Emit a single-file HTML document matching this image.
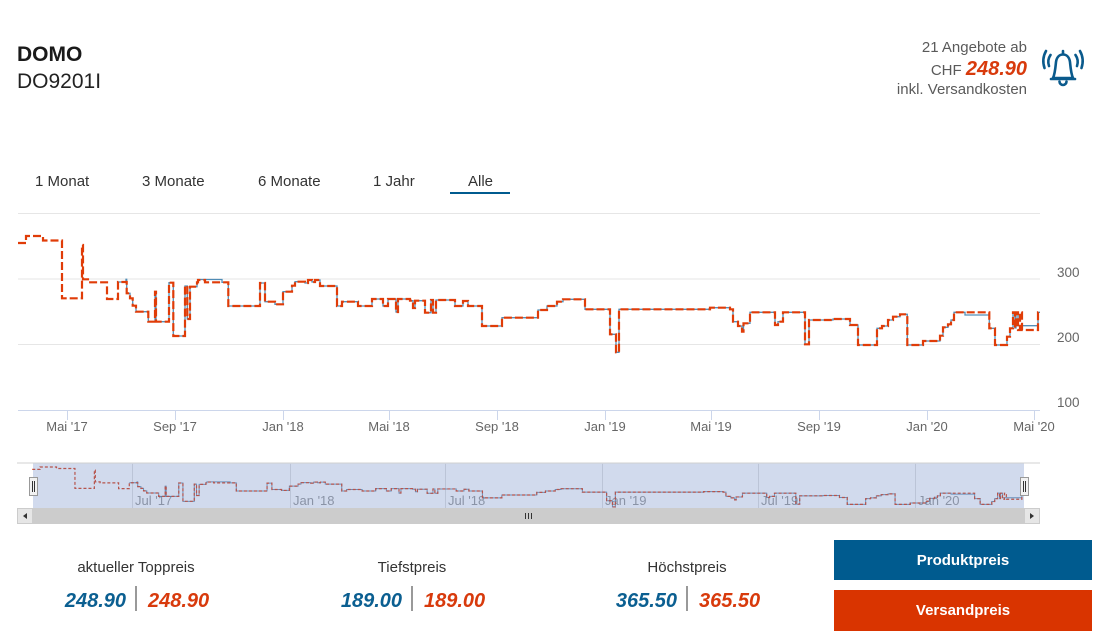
<!DOCTYPE html>
<html>
<head>
<meta charset="utf-8">
<style>
  html, body { margin:0; padding:0; background:#fff; }
  body { width:1100px; height:634px; overflow:hidden; }
  svg { display:block; font-family:"Liberation Sans", Arial, sans-serif; }
</style>
</head>
<body>
<svg width="1100" height="634" viewBox="0 0 1100 634" xmlns="http://www.w3.org/2000/svg">
  <defs>
    <path id="redp" vector-effect="non-scaling-stroke" d="M18,243 H26 V236 H43 V240.5 H62 V298.3 H82 V245 H83 V279.3 H88 V282.3 H107 V299 H118 V282 H126.7 V293.3 H130 V298.3 H132.7 V305.7 H136 V311.7 H148.3 V321.7 H155 V291.7 H156 V321.7 H169 V282.7 H173.3 V336 H185 V286 H187.3 V319 H190 V286.7 H197 V282.3 H198 V280 H205 V282.3 H228.3 V306 H260 V283 H265 V301.7 H275 V304.3 H283 V291.7 H292 V285.7 H295 V281.7 H305 V283 H308 V280 H312 V282 H315 V280 H320 V286 H337 V306 H342 V301.7 H358 V306 H372 V299 H383 V306 H388 V299 H396 V312 H398 V299 H410 V300.7 H413 V308 H415 V300.7 H425 V312.7 H431 V300 H433 V312.7 H436 V300 H455 V306 H463 V301 H468 V306 H482 V326 H502 V317.7 H538 V310 H547 V306 H557 V301.7 H563 V299.3 H585 V309.3 H610 V334.3 H616 V352.3 H619 V309.3 H710 V307.7 H730 V309.3 H733 V321.7 H738 V326 H742 V331.7 H743.5 V323.3 H750 V312.3 H775 V325 H778 V321.7 H783 V312.3 H805 V344.3 H809 V320 H833 V319 H850 V325 H858 V345 H877 V328.3 H882 V326 H888 V320 H893 V316.7 H900 V314.3 H907.3 V345 H923 V341 H940 V335.7 H943 V327.3 H948 V324.3 H951 V320 H954 V312.3 H989.3 V328.3 H995 V345 H1007 V336.7 H1010 V328.3 H1013 V312.3 H1015 V328 H1016 V312.3 H1018 V330 H1020 V312.3 H1022 V330 H1038 V312.3 H1040"/>
    <path id="bluep" vector-effect="non-scaling-stroke" d="M118,282 H126 V279.3 H126.7 V293.3 H130 V298.3 H132.7 V305.7 H136 V311.7 H148.3 V321.7 H155 V291.7 H156 V321.7 H169 V282.7 H173.3 V336 H185 V286 H187.3 V319 H190 V286.7 H197 V282.3 H198 V279.5 H222 V282.3 H228.3 V306 H260 V283 H265 V301.7 H275 V304.3 H283 V291.7 H292 V285.7 H295 V281.7 H305 V283 H308 V280 H312 V282 H315 V280 H320 V286 H337 V306 H342 V301.7 H358 V306 H372 V299 H383 V306 H388 V299 H396 V312 H398 V299 H410 V300.7 H413 V308 H415 V300.7 H425 V312.7 H431 V300 H433 V312.7 H436 V300 H455 V306 H463 V301 H468 V306 H482 V326 H502 V317.7 H538 V310 H547 V306 H557 V301.7 H563 V299.3 H585 V309.3 H610 V334.3 H616 V352.3 H619 V309.3 H710 V307.7 H730 V309.3 H733 V321.7 H738 V326 H742 V331.7 H743.5 V323.3 H750 V312.3 H775 V325 H778 V321.7 H783 V312.3 H805 V344.3 H809 V320 H833 V319 H850 V325 H858 V345 H877 V328.3 H882 V326 H888 V320 H893 V316.7 H900 V314.3 H907.3 V345 H923 V341 H940 V335.7 H943 V327.3 H948 V324.3 H951 V320 H954 V312.3 H965 V315 H989.3 V328.3 H995 V345 H1007 V336.7 H1010 V328.3 H1013 V312.3 H1015 V328 H1016 V312.3 H1018 V325.7 H1038 V312.3 H1040"/>
    <clipPath id="plotclip"><rect x="17" y="200" width="1024" height="212"/></clipPath>
  </defs>

  <!-- Header left -->
  <text x="17" y="61" font-size="21" font-weight="bold" fill="#1a1a1a">DOMO</text>
  <text x="17" y="88" font-size="21" fill="#222">DO9201I</text>

  <!-- Header right -->
  <text x="1027" y="52" font-size="15" fill="#5a5a5a" text-anchor="end">21 Angebote ab</text>
  <text x="1027" y="75" text-anchor="end"><tspan font-size="15" fill="#5a5a5a">CHF </tspan><tspan font-size="20" font-weight="bold" font-style="italic" fill="#d83a0c">248.90</tspan></text>
  <text x="1027" y="94" font-size="15" fill="#5a5a5a" text-anchor="end">inkl. Versandkosten</text>

  <!-- Bell icon -->
  <g fill="none" stroke="#0a5a8c" stroke-width="2.6" stroke-linecap="round" stroke-linejoin="round">
    <path d="M1053,78 C1055,74 1055.5,67 1056,62 C1056.8,56.5 1060,54.5 1063,54.5 C1066,54.5 1069.2,56.5 1070,62 C1070.5,67 1071,74 1073,78 Z"/>
    <path d="M1051,79 H1075"/>
    <path d="M1059.5,81.5 A3.5,3.5 0 0 0 1066.5,81.5"/>
    <path d="M1063,51 V54"/>
    <path d="M1050.5,55 Q1047,60 1049,66"/>
    <path d="M1046,51 Q1041.5,59 1044.5,68"/>
    <path d="M1075.5,55 Q1079,60 1077,66"/>
    <path d="M1080,51 Q1084.5,59 1081.5,68"/>
  </g>

  <!-- Tabs -->
  <g font-size="15" fill="#333">
    <text x="35" y="186">1 Monat</text>
    <text x="142" y="186">3 Monate</text>
    <text x="258" y="186">6 Monate</text>
    <text x="373" y="186">1 Jahr</text>
    <text x="468" y="186">Alle</text>
  </g>
  <rect x="450" y="192" width="60" height="2" fill="#005b8f"/>

  <!-- Main chart grid -->
  <g stroke="#e6e6e6" stroke-width="1">
    <line x1="18" y1="213.5" x2="1040" y2="213.5"/>
    <line x1="18" y1="279" x2="1040" y2="279"/>
    <line x1="18" y1="344.5" x2="1040" y2="344.5"/>
  </g>
  <line x1="18" y1="410.5" x2="1040" y2="410.5" stroke="#ccd6eb" stroke-width="1"/>
  <g stroke="#ccd6eb" stroke-width="1">
    <line x1="67.5" y1="410" x2="67.5" y2="420"/>
    <line x1="175.5" y1="410" x2="175.5" y2="420"/>
    <line x1="283.5" y1="410" x2="283.5" y2="420"/>
    <line x1="389.5" y1="410" x2="389.5" y2="420"/>
    <line x1="497.5" y1="410" x2="497.5" y2="420"/>
    <line x1="605.5" y1="410" x2="605.5" y2="420"/>
    <line x1="711.5" y1="410" x2="711.5" y2="420"/>
    <line x1="819.5" y1="410" x2="819.5" y2="420"/>
    <line x1="927.5" y1="410" x2="927.5" y2="420"/>
    <line x1="1034.5" y1="410" x2="1034.5" y2="420"/>
  </g>
  <g font-size="13" fill="#666" text-anchor="middle">
    <text x="67" y="431">Mai '17</text>
    <text x="175" y="431">Sep '17</text>
    <text x="283" y="431">Jan '18</text>
    <text x="389" y="431">Mai '18</text>
    <text x="497" y="431">Sep '18</text>
    <text x="605" y="431">Jan '19</text>
    <text x="711" y="431">Mai '19</text>
    <text x="819" y="431">Sep '19</text>
    <text x="927" y="431">Jan '20</text>
    <text x="1034" y="431">Mai '20</text>
  </g>
  <g font-size="13.5" fill="#666">
    <text x="1057" y="277">300</text>
    <text x="1057" y="342">200</text>
    <text x="1057" y="407">100</text>
  </g>

  <!-- Series -->
  <g clip-path="url(#plotclip)" fill="none">
    <use href="#bluep" stroke="#1a6aa0" stroke-width="1.3" stroke-opacity="0.75"/>
    <use href="#redp" stroke="#e03c08" stroke-width="2.2" stroke-dasharray="8,3"/>
  </g>

  <!-- Navigator -->
  <line x1="17" y1="463" x2="1040" y2="463" stroke="#d0d0d0" stroke-width="1"/>
  <g stroke="#e0e0e0" stroke-width="1">
    <line x1="132.5" y1="463" x2="132.5" y2="508"/>
    <line x1="290.5" y1="463" x2="290.5" y2="508"/>
    <line x1="445.5" y1="463" x2="445.5" y2="508"/>
    <line x1="602.5" y1="463" x2="602.5" y2="508"/>
    <line x1="758.5" y1="463" x2="758.5" y2="508"/>
    <line x1="915.5" y1="463" x2="915.5" y2="508"/>
  </g>
  <g font-size="13" fill="#9a9a9a">
    <text x="135" y="505">Jul '17</text>
    <text x="293" y="505">Jan '18</text>
    <text x="448" y="505">Jul '18</text>
    <text x="605" y="505">Jan '19</text>
    <text x="761" y="505">Jul '19</text>
    <text x="918" y="505">Jan '20</text>
  </g>
  <g fill="none" transform="translate(14.8,385.9) scale(0.9702,0.3435)">
    <use href="#bluep" stroke="#2a6a9a" stroke-width="1" stroke-opacity="0.7"/>
    <use href="#redp" stroke="#d8401a" stroke-width="1.2" stroke-dasharray="3,2"/>
  </g>
  <rect x="33" y="463.5" width="991" height="44.5" fill="rgba(102,133,194,0.3)"/>

  <!-- Handles -->
  <g>
    <rect x="29.5" y="477.5" width="8" height="18" fill="#f2f2f2" stroke="#999" stroke-width="1"/>
    <line x1="32.5" y1="481" x2="32.5" y2="492" stroke="#333" stroke-width="1"/>
    <line x1="34.5" y1="481" x2="34.5" y2="492" stroke="#333" stroke-width="1"/>
    <rect x="1020.5" y="477.5" width="8" height="18" fill="#f2f2f2" stroke="#999" stroke-width="1"/>
    <line x1="1023.5" y1="481" x2="1023.5" y2="492" stroke="#333" stroke-width="1"/>
    <line x1="1025.5" y1="481" x2="1025.5" y2="492" stroke="#333" stroke-width="1"/>
  </g>

  <!-- Scrollbar -->
  <rect x="17" y="508" width="1023" height="16" fill="#f2f2f2"/>
  <rect x="33" y="508" width="991" height="16" fill="#cccccc"/>
  <rect x="17.5" y="508.5" width="15" height="15" fill="#e6e6e6" stroke="#cccccc" stroke-width="1"/>
  <rect x="1024.5" y="508.5" width="15" height="15" fill="#e6e6e6" stroke="#cccccc" stroke-width="1"/>
  <path d="M23,516 L27,513 L27,519 Z" fill="#333"/>
  <path d="M1034,516 L1030,513 L1030,519 Z" fill="#333"/>
  <g stroke="#333" stroke-width="1">
    <line x1="525.5" y1="513" x2="525.5" y2="519"/>
    <line x1="528.5" y1="513" x2="528.5" y2="519"/>
    <line x1="531.5" y1="513" x2="531.5" y2="519"/>
  </g>

  <!-- Bottom stats -->
  <g font-size="15" fill="#333" text-anchor="middle">
    <text x="136" y="572">aktueller Toppreis</text>
    <text x="412" y="572">Tiefstpreis</text>
    <text x="687" y="572">Höchstpreis</text>
  </g>
  <g font-size="20" font-weight="bold" font-style="italic">
    <text x="126" y="607" text-anchor="end" fill="#0b5f91">248.90</text>
    <text x="148" y="607" fill="#d83a0c">248.90</text>
    <text x="402" y="607" text-anchor="end" fill="#0b5f91">189.00</text>
    <text x="424" y="607" fill="#d83a0c">189.00</text>
    <text x="677" y="607" text-anchor="end" fill="#0b5f91">365.50</text>
    <text x="699" y="607" fill="#d83a0c">365.50</text>
  </g>
  <g fill="#999">
    <rect x="135" y="586" width="2" height="25"/>
    <rect x="411" y="586" width="2" height="25"/>
    <rect x="686" y="586" width="2" height="25"/>
  </g>

  <!-- Buttons -->
  <rect x="834" y="540" width="258" height="40" fill="#005b8f"/>
  <rect x="834" y="590" width="258" height="41" fill="#d93400"/>
  <g font-size="15" font-weight="bold" fill="#fff" text-anchor="middle">
    <text x="963" y="565">Produktpreis</text>
    <text x="963" y="615">Versandpreis</text>
  </g>
</svg>
</body>
</html>
